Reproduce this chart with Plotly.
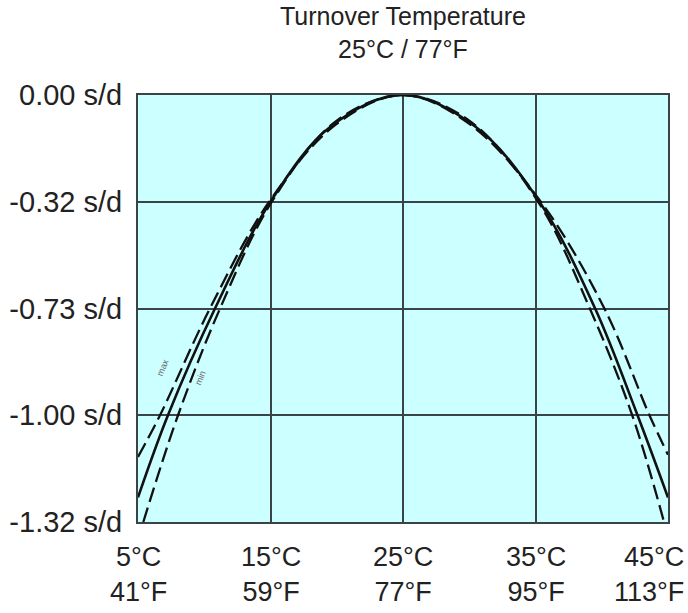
import plotly.graph_objects as go

# --- DATA (temperature in °C, rate in grid steps: 0 = top line, -4 = bottom line) ---
temp_ticks = [5, 15, 25, 35, 45]
temp_labels = ["5°C<br>41°F", "15°C<br>59°F", "25°C<br>77°F", "35°C<br>95°F", "45°C<br>113°F"]

rate_ticks = [0, -1, -2, -3, -4]
rate_labels = ["0.00 s/d", "-0.32 s/d", "-0.73 s/d", "-1.00 s/d", "-1.32 s/d"]

# nominal curve (solid)
nom_t = [5, 7.26, 10.81, 15, 19.5, 25, 30.5, 35.3, 39.5, 42.7, 45]
nom_y = [-3.77, -3.0, -2.0, -1.0, -0.30, 0, -0.30, -1.0, -2.0, -3.0, -3.77]

# "max" tolerance curve (dashed, flatter)
max_t = [5, 6.66, 10.43, 14.9, 20, 25, 30, 35.4, 40.2, 43.6, 45]
max_y = [-3.39, -3.0, -2.0, -1.0, -0.27, 0, -0.27, -1.0, -2.0, -3.0, -3.37]

# "min" tolerance curve (dashed, steeper)
min_t = [5.4, 8.02, 11.19, 15.1, 20, 25, 30, 35.2, 39.1, 42.3, 44.7]
min_y = [-4.0, -3.0, -2.0, -1.0, -0.24, 0, -0.24, -1.0, -2.0, -3.0, -4.0]

# --- STYLE ---
FONT = "Liberation Sans, Arial, sans-serif"
INK = "#222222"
GRID = "#3a4446"
BG = "#ccffff"

fig = go.Figure()

dash = "15px,6px"
for tt, yy in [(max_t, max_y), (min_t, min_y)]:
    fig.add_trace(go.Scatter(x=tt, y=yy, mode="lines", hoverinfo="skip",
                             line=dict(color="#111", width=2.3, dash=dash, shape="spline")))
fig.add_trace(go.Scatter(x=nom_t, y=nom_y, mode="lines", hoverinfo="skip",
                         line=dict(color="#111", width=2.6, shape="spline")))

# small curve labels
fig.add_annotation(x=6.9, y=-2.55, text="max", showarrow=False, textangle=-68,
                   font=dict(family=FONT, size=9, color="#666"))
fig.add_annotation(x=9.7, y=-2.65, text="min", showarrow=False, textangle=-68,
                   font=dict(family=FONT, size=9, color="#666"))

# title above the plot, centred on 25°C
fig.add_annotation(x=25, xref="x", y=1, yref="paper", yanchor="bottom", yshift=30,
                   text="Turnover Temperature<br>25°C / 77°F", showarrow=False,
                   font=dict(family=FONT, size=25, color=INK))

# x labels (°C / °F) as annotations so the last one can sit flush with the page edge
for i, (t, lab) in enumerate(zip(temp_ticks, temp_labels)):
    last = i == len(temp_ticks) - 1
    fig.add_annotation(x=t, xref="x", y=0, yref="paper", yanchor="top",
                       xanchor="right" if last else "center", align="right" if last else "center",
                       xshift=18 if last else 0, yshift=-18,
                       text=lab, showarrow=False,
                       font=dict(family=FONT, size=27, color=INK))

fig.update_layout(
    width=688, height=613,
    margin=dict(l=138, r=20, t=95, b=91),
    paper_bgcolor="white",
    plot_bgcolor=BG,
    showlegend=False,
    font=dict(family=FONT, size=27, color=INK),
)

fig.update_xaxes(
    range=[5, 45], tickvals=temp_ticks, showticklabels=False,
    showgrid=True, gridcolor=GRID, gridwidth=2,
    showline=True, linecolor=GRID, linewidth=2, mirror=True,
    zeroline=False, ticks="", automargin=False,
)
fig.update_yaxes(
    range=[-4, 0], tickvals=rate_ticks, ticktext=rate_labels,
    showgrid=True, gridcolor=GRID, gridwidth=2,
    showline=True, linecolor=GRID, linewidth=2, mirror=True,
    zeroline=False, ticks="", ticklabelstandoff=8, automargin=False,
    tickfont=dict(family=FONT, size=29, color=INK),
)

# drop the browser's default body margin so the figure sits at the page corner
fig.write_html("out.html", config={"displayModeBar": False},
               post_script="document.body.style.margin='0';")
